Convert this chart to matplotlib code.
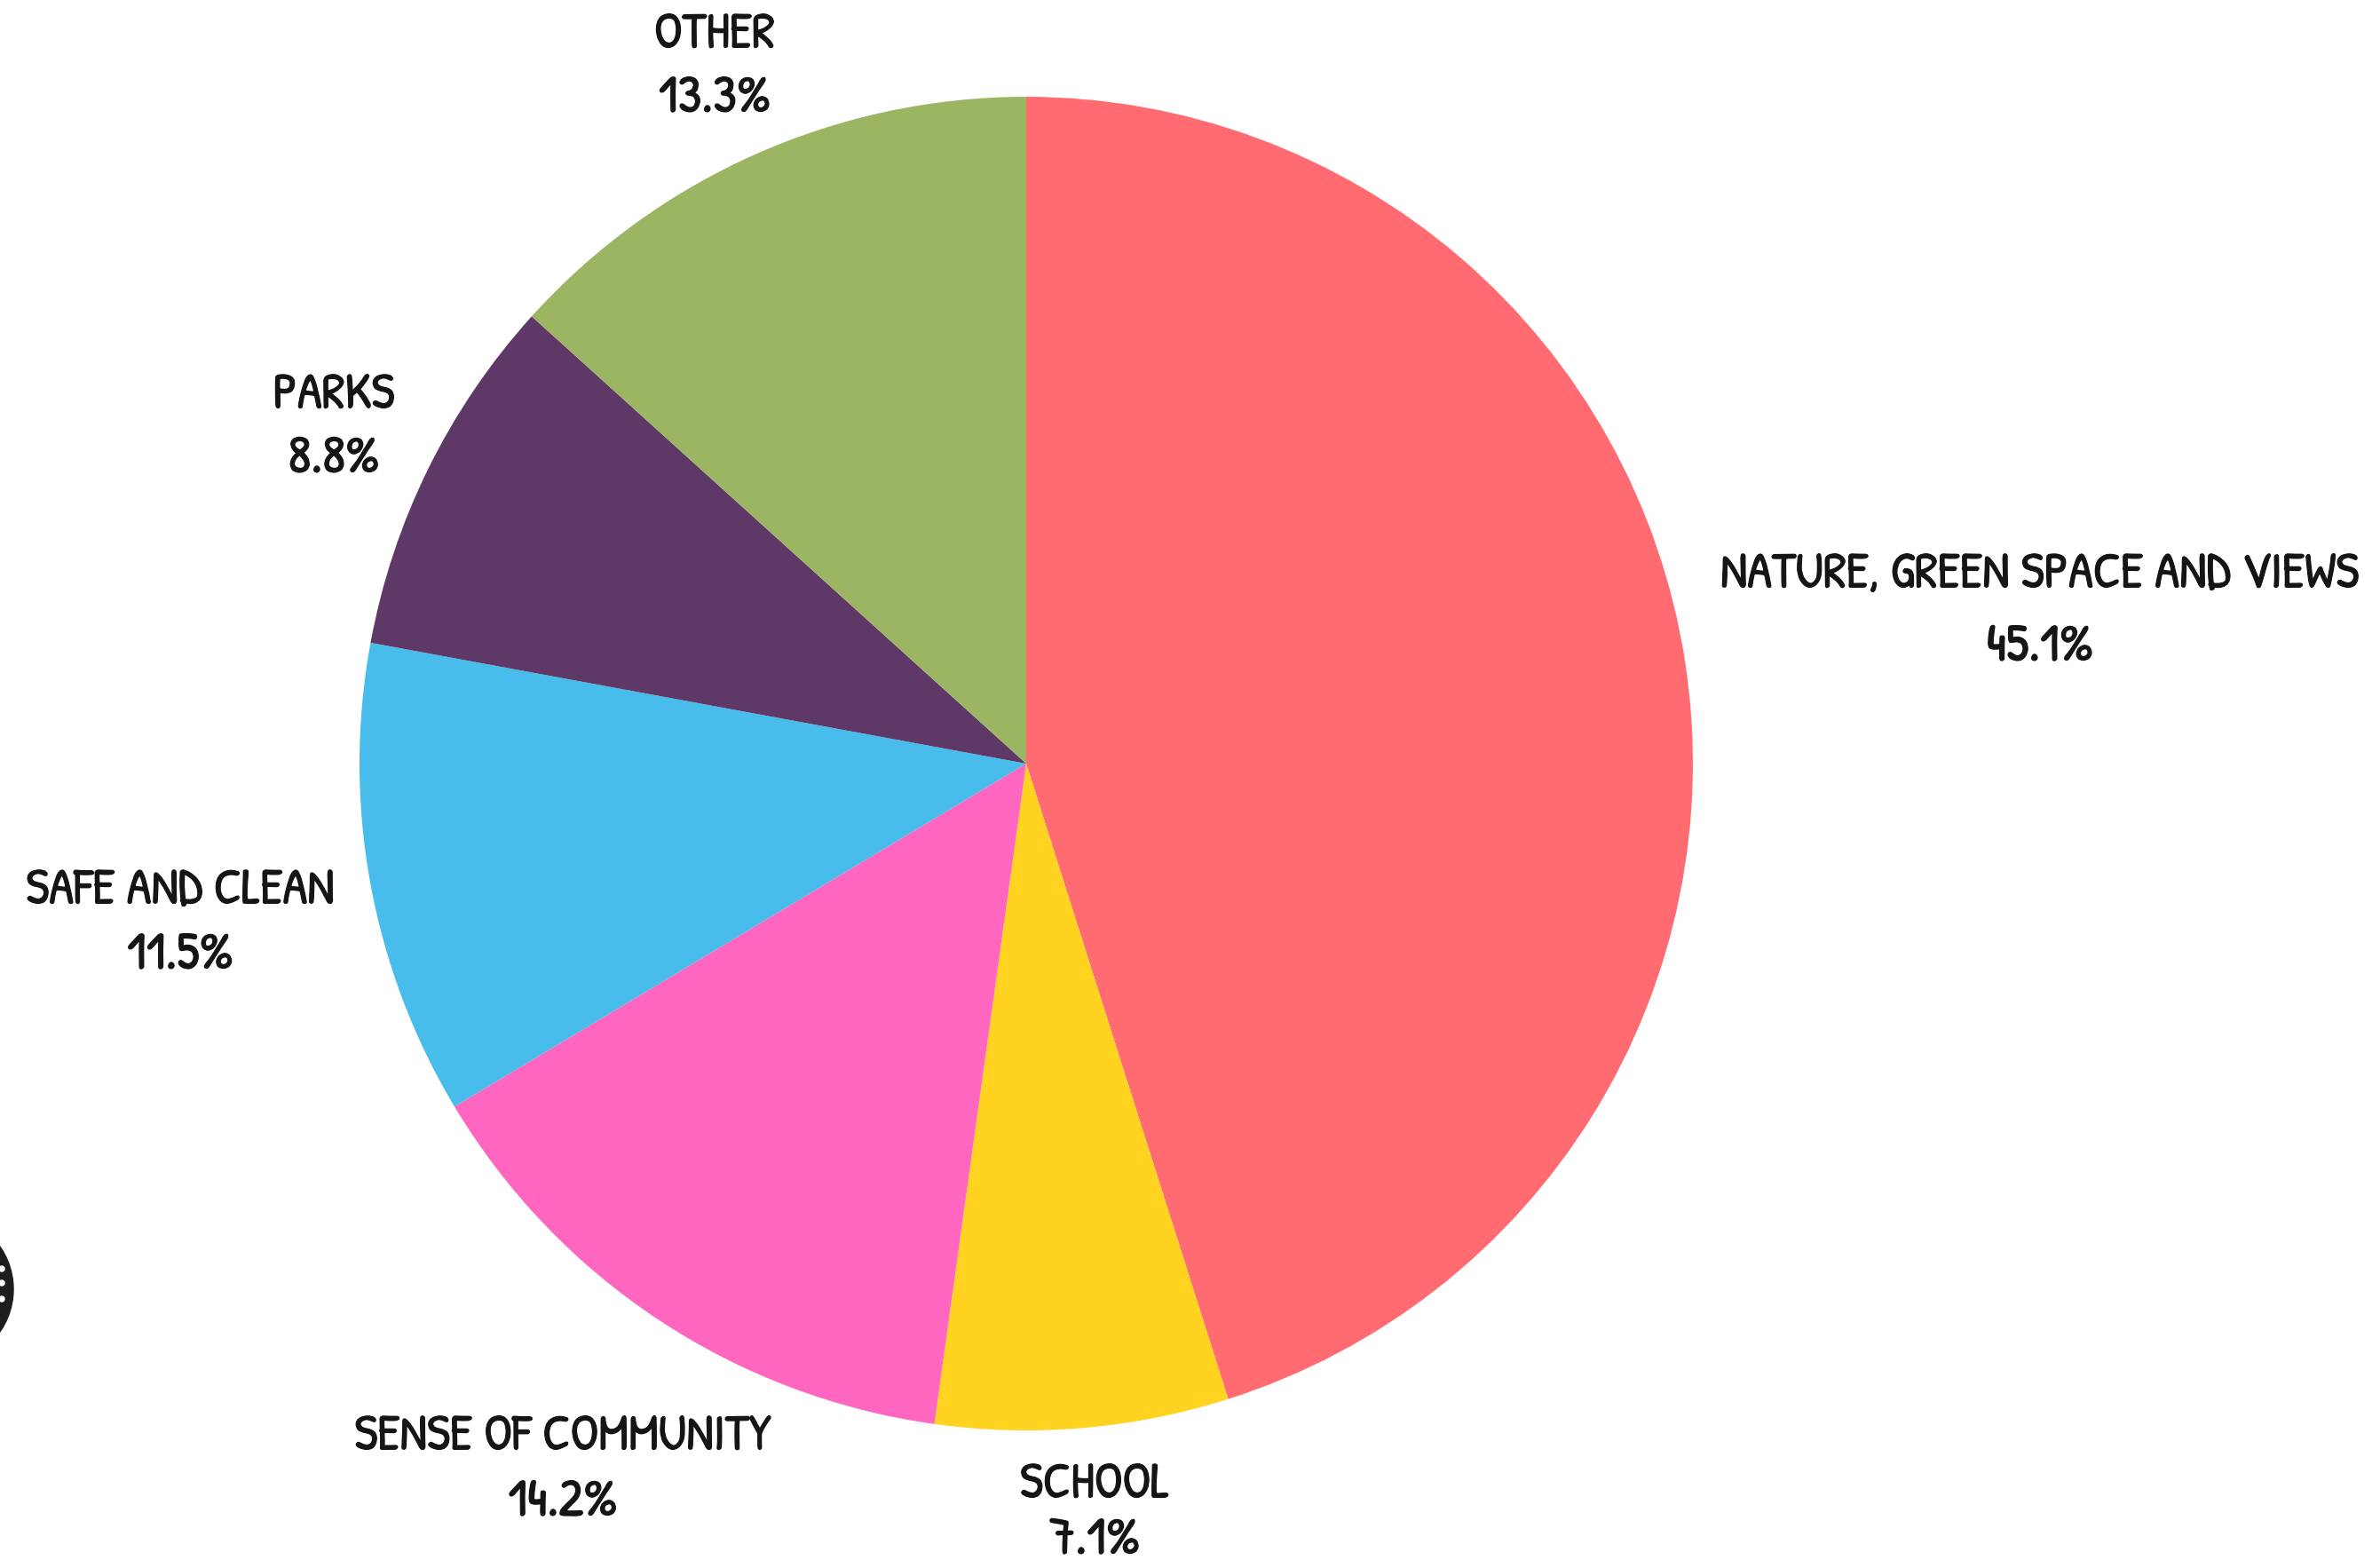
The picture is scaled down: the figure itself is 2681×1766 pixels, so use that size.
import matplotlib
matplotlib.use('Agg')
import matplotlib.pyplot as plt
import matplotlib.patheffects as pe
from matplotlib.patches import Circle

W, H = 2681, 1766

# clockwise from 12 o'clock
categories = ['NATURE, GREEN SPACE AND VIEWS', 'SCHOOL', 'SENSE OF COMMUNITY',
              'SAFE AND CLEAN', 'PARKS', 'OTHER']
values = [45.1, 7.1, 14.2, 11.5, 8.8, 13.3]
colors = ['#FF6B70', '#FFD320', '#FF66C0', '#48BDEB', '#5E3866', '#9BB562']

# label centres, in pixels from top left
label_x = [2298, 1233, 634, 203, 376, 805]
name_y = [650, 1675, 1621, 1006, 448, 42]
pct_y = [732, 1738, 1695, 1079, 520, 114]

plt.rcParams['font.family'] = ['Patrick Hand', 'Liberation Sans']

fig = plt.figure(figsize=(W / 100, H / 100), dpi=100)
ax = fig.add_axes([0, 0, 1, 1])

ax.pie(values, colors=colors, startangle=90, counterclock=False,
       center=(1156, H - 860), radius=751, frame=True)
ax.set_xlim(0, W)
ax.set_ylim(0, H)
ax.set_aspect('equal')
ax.axis('off')

# reference lettering is a bit heavier than the font
heavy = [pe.withStroke(linewidth=0.8, foreground='#151515')]
for name, val, x, y1, y2 in zip(categories, values, label_x, name_y, pct_y):
    ax.text(x, H - y1, name, ha='center', va='center', fontsize=41, color='#151515', path_effects=heavy)
    ax.text(x, H - y2, '{}%'.format(val), ha='center', va='center', fontsize=43, color='#151515', path_effects=heavy)

# cut off badge at the left edge
ax.add_patch(Circle((-69, H - 1452), 84, color='#1E1E1E'))
for dot_y in [1429, 1445, 1463]:
    ax.add_patch(Circle((2, H - dot_y), 3, color='white'))

fig.savefig('out.png', dpi=100, facecolor='white')
